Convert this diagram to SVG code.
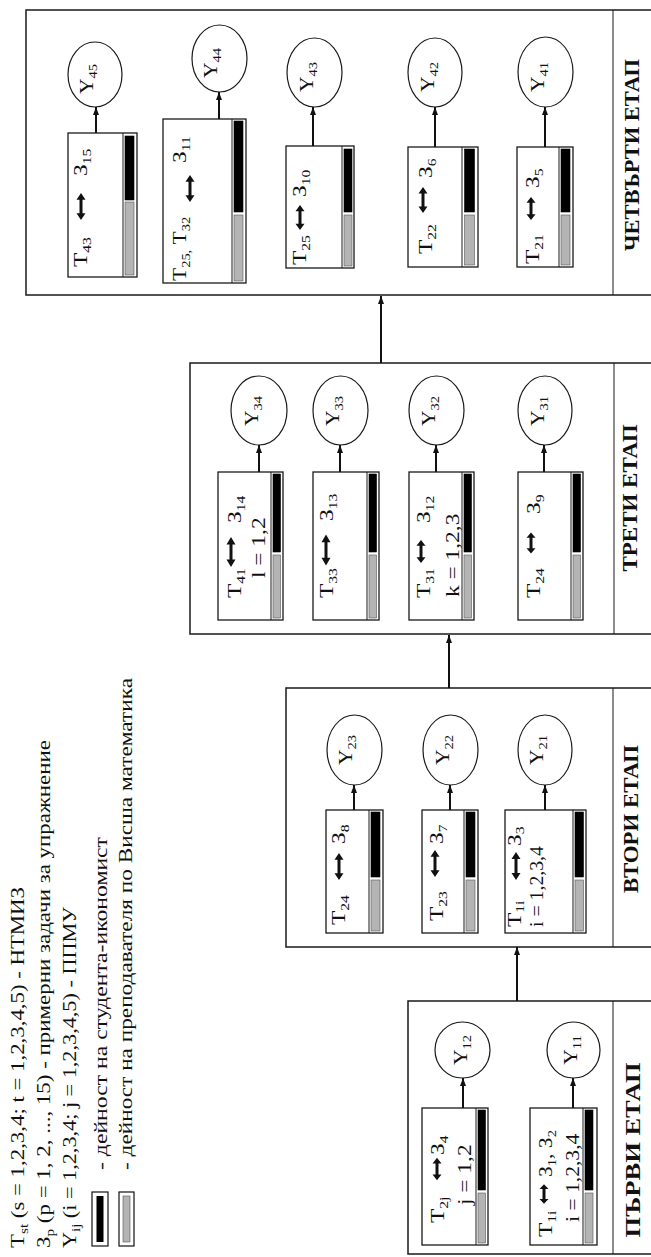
<svg xmlns="http://www.w3.org/2000/svg" width="651" height="1257" viewBox="0 0 651 1257">
<style>
.box{fill:none;stroke:#1a1a1a;stroke-width:1.5}
.nd{fill:#fff;stroke:#1a1a1a;stroke-width:1.3}
.dv{stroke:#1a1a1a;stroke-width:1}
.bk{fill:#000;stroke:#000;stroke-width:0.6}
.gr{fill:#b4b4b4;stroke:#555;stroke-width:0.6}
.el{fill:#fff;stroke:#1a1a1a;stroke-width:1.2}
.cn{stroke:#111;stroke-width:2;fill:none}
.t{font-family:"Liberation Serif","Times New Roman",serif;font-size:18px;fill:#111}
.s{font-size:12px}
.lg{font-family:"Liberation Serif","Times New Roman",serif;font-size:18px;fill:#111}
.lbl{font-family:"Liberation Serif","Times New Roman",serif;font-size:22px;font-weight:bold;fill:#111}
</style>
<defs>
<marker id="ah" viewBox="0 0 8 6" refX="8" refY="3" markerWidth="8" markerHeight="6" markerUnits="userSpaceOnUse" orient="auto"><path d="M0,0 L8,3 L0,6 z" fill="#111"/></marker>
<g id="dbl"><path d="M0,-8 V8" stroke="#111" stroke-width="3"/><path d="M0,-14 L-4.5,-7 L4.5,-7 z M0,14 L-4.5,7 L4.5,7 z" fill="#111"/></g>
</defs>

<g id="legend">
<text class="lg" transform="translate(24,1248) rotate(-90)" textLength="361" lengthAdjust="spacingAndGlyphs">Т<tspan class="s" dy="4">st</tspan><tspan dy="-4"> (s = 1,2,3,4; t = 1,2,3,4,5) - НТМИЗ</tspan></text>
<text class="lg" transform="translate(50,1248) rotate(-90)" textLength="508" lengthAdjust="spacingAndGlyphs">З<tspan class="s" dy="4">p</tspan><tspan dy="-4"> (p = 1, 2, ..., 15) - примерни задачи за упражнение</tspan></text>
<text class="lg" transform="translate(76,1248) rotate(-90)" textLength="341" lengthAdjust="spacingAndGlyphs">Y<tspan class="s" dy="4">ij</tspan><tspan dy="-4"> (i = 1,2,3,4; j = 1,2,3,4,5) - ППМУ</tspan></text>
<rect x="92" y="1192" width="16" height="54" fill="#fff" stroke="#111" stroke-width="1.2"/>
<rect x="96.5" y="1196" width="7" height="46" fill="#000"/>
<rect x="119" y="1192" width="15" height="54" fill="#fff" stroke="#111" stroke-width="1.2"/>
<rect x="123" y="1196" width="7" height="46" class="gr"/>
<text class="lg" transform="translate(107,1170) rotate(-90)" textLength="333" lengthAdjust="spacingAndGlyphs">- дейност на студента-икономист</text>
<text class="lg" transform="translate(132,1170) rotate(-90)" textLength="492" lengthAdjust="spacingAndGlyphs">- дейност на преподавателя по Висша математика</text>
</g>

<g id="stage4">
<rect class="box" x="26" y="10" width="626" height="285"/>
<line class="dv" x1="613" y1="10" x2="613" y2="295" stroke-width="1.5"/>
<text class="lbl" text-anchor="middle" transform="translate(639,155) rotate(-90)" textLength="192" lengthAdjust="spacingAndGlyphs">ЧЕТВЪРТИ ЕТАП</text>
</g>
<g id="stage3">
<rect class="box" x="190" y="363" width="462" height="271"/>
<line class="dv" x1="614" y1="363" x2="614" y2="634" stroke-width="1.5"/>
<text class="lbl" text-anchor="middle" transform="translate(637,498) rotate(-90)" textLength="147" lengthAdjust="spacingAndGlyphs">ТРЕТИ ЕТАП</text>
</g>
<g id="stage2">
<rect class="box" x="286" y="688" width="366" height="259"/>
<line class="dv" x1="613" y1="688" x2="613" y2="947" stroke-width="1.5"/>
<text class="lbl" text-anchor="middle" transform="translate(638,819) rotate(-90)" textLength="148" lengthAdjust="spacingAndGlyphs">ВТОРИ ЕТАП</text>
</g>
<g id="stage1">
<rect class="box" x="408" y="1001" width="244" height="253"/>
<line class="dv" x1="613" y1="1001" x2="613" y2="1254" stroke-width="1.5"/>
<text class="lbl" text-anchor="middle" transform="translate(640,1150) rotate(-90)" textLength="175" lengthAdjust="spacingAndGlyphs">ПЪРВИ ЕТАП</text>
</g>

<!-- Stage 4 nodes -->
<g id="n45">
<rect class="nd" x="68" y="133" width="69" height="144"/><line class="dv" x1="123" y1="133" x2="123" y2="277"/>
<rect class="bk" x="125" y="136" width="9" height="64"/><rect class="gr" x="125" y="202" width="9" height="73"/>
<text class="t" transform="translate(87,267) rotate(-90) scale(1.3,1)">Т<tspan class="s" dy="4">43</tspan></text>
<use href="#dbl" transform="translate(81,206.5) scale(1,0.96)"/>
<text class="t" transform="translate(87,176) rotate(-90) scale(1.3,1)">З<tspan class="s" dy="4">15</tspan></text>
</g>
<g id="e45"><ellipse class="el" cx="95" cy="74.5" rx="27" ry="32.5"/>
<text class="t" text-anchor="middle" transform="translate(93,79) rotate(-90) scale(1.2,1)">Y<tspan class="s" dy="4">45</tspan></text></g>

<g id="n44">
<rect class="nd" x="163" y="119" width="83" height="164"/><line class="dv" x1="232" y1="119" x2="232" y2="283"/>
<rect class="bk" x="234" y="121" width="9" height="91"/><rect class="gr" x="234" y="215" width="9" height="66"/>
<text class="t" transform="translate(186,281) rotate(-90) scale(1.2,1)">Т<tspan class="s" dy="4">25,</tspan><tspan dy="-4"> Т</tspan><tspan class="s" dy="4">32</tspan></text>
<use href="#dbl" transform="translate(190,188.5) scale(1,0.96)"/>
<text class="t" transform="translate(186,163) rotate(-90) scale(1.3,1)">З<tspan class="s" dy="4">11</tspan></text>
</g>
<g id="e44"><ellipse class="el" cx="219.5" cy="58.5" rx="27.5" ry="33.5"/>
<text class="t" text-anchor="middle" transform="translate(217,63) rotate(-90) scale(1.2,1)">Y<tspan class="s" dy="4">44</tspan></text></g>

<g id="n43">
<rect class="nd" x="286" y="146" width="68" height="122"/><line class="dv" x1="342" y1="146" x2="342" y2="268"/>
<rect class="bk" x="344" y="149" width="8" height="63"/><rect class="gr" x="344" y="215" width="8" height="51"/>
<text class="t" transform="translate(306,265) rotate(-90) scale(1.3,1)">Т<tspan class="s" dy="4">25</tspan></text>
<use href="#dbl" transform="translate(300,217.5) scale(1,0.9)"/>
<text class="t" transform="translate(306,197) rotate(-90) scale(1.3,1)">З<tspan class="s" dy="4">10</tspan></text>
</g>
<g id="e43"><ellipse class="el" cx="314.5" cy="72.5" rx="27.5" ry="34.5"/>
<text class="t" text-anchor="middle" transform="translate(313,77) rotate(-90) scale(1.2,1)">Y<tspan class="s" dy="4">43</tspan></text></g>

<g id="n42">
<rect class="nd" x="408" y="147" width="70" height="120"/><line class="dv" x1="462" y1="147" x2="462" y2="267"/>
<rect class="bk" x="464.5" y="149" width="10" height="63"/><rect class="gr" x="464.5" y="215" width="10" height="50"/>
<text class="t" transform="translate(432,254) rotate(-90) scale(1.3,1)">Т<tspan class="s" dy="4">22</tspan></text>
<use href="#dbl" transform="translate(423,200) scale(1,0.93)"/>
<text class="t" transform="translate(432,178) rotate(-90) scale(1.3,1)">З<tspan class="s" dy="4">6</tspan></text>
</g>
<g id="e42"><ellipse class="el" cx="435" cy="72.5" rx="27" ry="34.5"/>
<text class="t" text-anchor="middle" transform="translate(434,77) rotate(-90) scale(1.2,1)">Y<tspan class="s" dy="4">42</tspan></text></g>

<g id="n41">
<rect class="nd" x="517" y="147" width="56" height="120"/><line class="dv" x1="559" y1="147" x2="559" y2="267"/>
<rect class="bk" x="561" y="149" width="9" height="63"/><rect class="gr" x="561" y="215" width="9" height="50"/>
<text class="t" transform="translate(539,264) rotate(-90) scale(1.3,1)">Т<tspan class="s" dy="4">21</tspan></text>
<use href="#dbl" transform="translate(531,208.5) scale(1,0.82)"/>
<text class="t" transform="translate(539,188) rotate(-90) scale(1.3,1)">З<tspan class="s" dy="4">5</tspan></text>
</g>
<g id="e41"><ellipse class="el" cx="545.5" cy="72" rx="27.5" ry="35"/>
<text class="t" text-anchor="middle" transform="translate(544,77) rotate(-90) scale(1.2,1)">Y<tspan class="s" dy="4">41</tspan></text></g>

<!-- Stage 3 nodes -->
<g id="n34">
<rect class="nd" x="218" y="472" width="65" height="148"/><line class="dv" x1="271" y1="472" x2="271" y2="620"/>
<rect class="bk" x="273" y="474" width="7.5" height="78"/><rect class="gr" x="273" y="555" width="7.5" height="63"/>
<text class="t" transform="translate(241,598) rotate(-90) scale(1.3,1)">Т<tspan class="s" dy="4">41</tspan></text>
<use href="#dbl" transform="translate(231,552) scale(1,1.07)"/>
<text class="t" transform="translate(241,523) rotate(-90) scale(1.3,1)">З<tspan class="s" dy="4">14</tspan></text>
<text class="t" transform="translate(265,578) rotate(-90) scale(1.3,1)">l = 1,2</text>
</g>
<g id="e34"><ellipse class="el" cx="259" cy="410.5" rx="28" ry="34.5"/>
<text class="t" text-anchor="middle" transform="translate(258,411) rotate(-90) scale(1.2,1)">Y<tspan class="s" dy="4">34</tspan></text></g>

<g id="n33">
<rect class="nd" x="313" y="472" width="66" height="148"/><line class="dv" x1="367" y1="472" x2="367" y2="620"/>
<rect class="bk" x="369" y="474" width="7.5" height="78"/><rect class="gr" x="369" y="555" width="7.5" height="63"/>
<text class="t" transform="translate(333,598) rotate(-90) scale(1.3,1)">Т<tspan class="s" dy="4">33</tspan></text>
<use href="#dbl" transform="translate(326,550) scale(1,1.1)"/>
<text class="t" transform="translate(333,521) rotate(-90) scale(1.3,1)">З<tspan class="s" dy="4">13</tspan></text>
</g>
<g id="e33"><ellipse class="el" cx="340.5" cy="410.5" rx="27.5" ry="34.5"/>
<text class="t" text-anchor="middle" transform="translate(339,411) rotate(-90) scale(1.2,1)">Y<tspan class="s" dy="4">33</tspan></text></g>

<g id="n32">
<rect class="nd" x="409" y="472" width="65" height="148"/><line class="dv" x1="462" y1="472" x2="462" y2="620"/>
<rect class="bk" x="464" y="474" width="7.5" height="78"/><rect class="gr" x="464" y="555" width="7.5" height="63"/>
<text class="t" transform="translate(430,598) rotate(-90) scale(1.3,1)">Т<tspan class="s" dy="4">31</tspan></text>
<use href="#dbl" transform="translate(421,551.5) scale(1,0.82)"/>
<text class="t" transform="translate(430,523) rotate(-90) scale(1.3,1)">З<tspan class="s" dy="4">12</tspan></text>
<text class="t" transform="translate(459,597) rotate(-90) scale(1.3,1)">k = 1,2,3</text>
</g>
<g id="e32"><ellipse class="el" cx="436.5" cy="410.5" rx="27.5" ry="34.5"/>
<text class="t" text-anchor="middle" transform="translate(435,411) rotate(-90) scale(1.2,1)">Y<tspan class="s" dy="4">32</tspan></text></g>

<g id="n31">
<rect class="nd" x="518" y="472" width="65" height="148"/><line class="dv" x1="571" y1="472" x2="571" y2="620"/>
<rect class="bk" x="573" y="474" width="7.5" height="78"/><rect class="gr" x="573" y="555" width="7.5" height="63"/>
<text class="t" transform="translate(540,598) rotate(-90) scale(1.3,1)">Т<tspan class="s" dy="4">24</tspan></text>
<use href="#dbl" transform="translate(531,543) scale(1,0.75)"/>
<text class="t" transform="translate(540,514) rotate(-90) scale(1.3,1)">З<tspan class="s" dy="4">9</tspan></text>
</g>
<g id="e31"><ellipse class="el" cx="545" cy="410.5" rx="27" ry="34.5"/>
<text class="t" text-anchor="middle" transform="translate(544,411) rotate(-90) scale(1.2,1)">Y<tspan class="s" dy="4">31</tspan></text></g>

<!-- Stage 2 nodes -->
<g id="n23">
<rect class="nd" x="326" y="810" width="57" height="123"/><line class="dv" x1="369" y1="810" x2="369" y2="933"/>
<rect class="bk" x="371" y="812" width="9" height="65"/><rect class="gr" x="371" y="880" width="9" height="51"/>
<text class="t" transform="translate(345,925) rotate(-90) scale(1.3,1)">Т<tspan class="s" dy="4">24</tspan></text>
<use href="#dbl" transform="translate(339,866.5) scale(1,0.96)"/>
<text class="t" transform="translate(345,844) rotate(-90) scale(1.3,1)">З<tspan class="s" dy="4">8</tspan></text>
</g>
<g id="e23"><ellipse class="el" cx="354.5" cy="750" rx="27.5" ry="35"/>
<text class="t" text-anchor="middle" transform="translate(352,750) rotate(-90) scale(1.2,1)">Y<tspan class="s" dy="4">23</tspan></text></g>

<g id="n22">
<rect class="nd" x="422" y="810" width="56" height="123"/><line class="dv" x1="464" y1="810" x2="464" y2="933"/>
<rect class="bk" x="466" y="812" width="9" height="65"/><rect class="gr" x="466" y="880" width="9" height="51"/>
<text class="t" transform="translate(443,921) rotate(-90) scale(1.3,1)">Т<tspan class="s" dy="4">23</tspan></text>
<use href="#dbl" transform="translate(435,863.5) scale(1,0.96)"/>
<text class="t" transform="translate(443,844) rotate(-90) scale(1.3,1)">З<tspan class="s" dy="4">7</tspan></text>
</g>
<g id="e22"><ellipse class="el" cx="450.5" cy="750" rx="27.5" ry="35"/>
<text class="t" text-anchor="middle" transform="translate(449,750) rotate(-90) scale(1.2,1)">Y<tspan class="s" dy="4">22</tspan></text></g>

<g id="n21">
<rect class="nd" x="505" y="810" width="81" height="123"/><line class="dv" x1="573" y1="810" x2="573" y2="933"/>
<rect class="bk" x="575" y="812" width="8.5" height="65"/><rect class="gr" x="575" y="880" width="8.5" height="51"/>
<text class="t" transform="translate(521,927) rotate(-90) scale(1.3,1)">Т<tspan class="s" dy="3">1i</tspan></text>
<use href="#dbl" transform="translate(516,866) scale(1,1)"/>
<text class="t" transform="translate(521,846) rotate(-90) scale(1.3,1)">З<tspan class="s" dy="3">3</tspan></text>
<text class="t" transform="translate(543,927) rotate(-90) scale(1.1,1)">i = 1,2,3,4</text>
</g>
<g id="e21"><ellipse class="el" cx="545" cy="750" rx="27" ry="35"/>
<text class="t" text-anchor="middle" transform="translate(543,750) rotate(-90) scale(1.2,1)">Y<tspan class="s" dy="4">21</tspan></text></g>

<!-- Stage 1 nodes -->
<g id="n12">
<rect class="nd" x="422" y="1108" width="66" height="137"/><line class="dv" x1="476" y1="1108" x2="476" y2="1245"/>
<rect class="bk" x="478" y="1110" width="7.5" height="80"/><rect class="gr" x="478" y="1193" width="7.5" height="50"/>
<text class="t" transform="translate(444,1223) rotate(-90) scale(1.3,1)">Т<tspan class="s" dy="4">2j</tspan></text>
<use href="#dbl" transform="translate(437,1169) scale(1,0.8)"/>
<text class="t" transform="translate(444,1155) rotate(-90) scale(1.3,1)">З<tspan class="s" dy="4">4</tspan></text>
<text class="t" transform="translate(471,1205) rotate(-90) scale(1.3,1)">j = 1,2</text>
</g>
<g id="e12"><ellipse class="el" cx="462.5" cy="1050" rx="27.5" ry="28"/>
<text class="t" text-anchor="middle" transform="translate(467,1050) rotate(-90) scale(1.2,1)">Y<tspan class="s" dy="4">12</tspan></text></g>

<g id="n11">
<rect class="nd" x="530" y="1108" width="67" height="137"/><line class="dv" x1="583" y1="1108" x2="583" y2="1245"/>
<rect class="bk" x="585" y="1110" width="8" height="80"/><rect class="gr" x="585" y="1193" width="8" height="50"/>
<text class="t" transform="translate(552,1237) rotate(-90) scale(1.3,1)">Т<tspan class="s" dy="4">1i</tspan></text>
<use href="#dbl" transform="translate(544,1194) scale(1,0.7)"/>
<text class="t" transform="translate(552,1177) rotate(-90) scale(1.2,1)">З<tspan class="s" dy="4">1</tspan><tspan dy="-4">, З</tspan><tspan class="s" dy="4">2</tspan></text>
<text class="t" transform="translate(579,1222) rotate(-90) scale(1.2,1)">i = 1,2,3,4</text>
</g>
<g id="e11"><ellipse class="el" cx="573.5" cy="1050" rx="26.5" ry="28"/>
<text class="t" text-anchor="middle" transform="translate(577,1050) rotate(-90) scale(1.2,1)">Y<tspan class="s" dy="4">11</tspan></text></g>

<g id="connectors">
<line class="cn" x1="96" y1="133" x2="96" y2="107" marker-end="url(#ah)"/>
<line class="cn" x1="219" y1="119" x2="219" y2="92" marker-end="url(#ah)"/>
<line class="cn" x1="313" y1="146" x2="313" y2="107" marker-end="url(#ah)" stroke-width="1.5"/>
<line class="cn" x1="435" y1="147" x2="435" y2="107" marker-end="url(#ah)"/>
<line class="cn" x1="545" y1="147" x2="545" y2="107" marker-end="url(#ah)"/>
<line class="cn" x1="259" y1="472" x2="259" y2="445" marker-end="url(#ah)"/>
<line class="cn" x1="340" y1="472" x2="340" y2="445" marker-end="url(#ah)"/>
<line class="cn" x1="436" y1="472" x2="436" y2="445" marker-end="url(#ah)"/>
<line class="cn" x1="544" y1="472" x2="544" y2="445" marker-end="url(#ah)"/>
<line class="cn" x1="354" y1="810" x2="354" y2="785" marker-end="url(#ah)" stroke-width="1.5"/>
<line class="cn" x1="450" y1="810" x2="450" y2="785" marker-end="url(#ah)"/>
<line class="cn" x1="545" y1="810" x2="545" y2="785" marker-end="url(#ah)"/>
<line class="cn" x1="463" y1="1108" x2="463" y2="1078" marker-end="url(#ah)"/>
<line class="cn" x1="573" y1="1108" x2="573" y2="1078" marker-end="url(#ah)"/>
<line class="cn" x1="517" y1="1001" x2="517" y2="947" marker-end="url(#ah)"/>
<line class="cn" x1="449" y1="688" x2="449" y2="635" marker-end="url(#ah)"/>
<line class="cn" x1="381" y1="363" x2="381" y2="296" marker-end="url(#ah)" stroke-width="1.5"/>
</g>
</svg>
